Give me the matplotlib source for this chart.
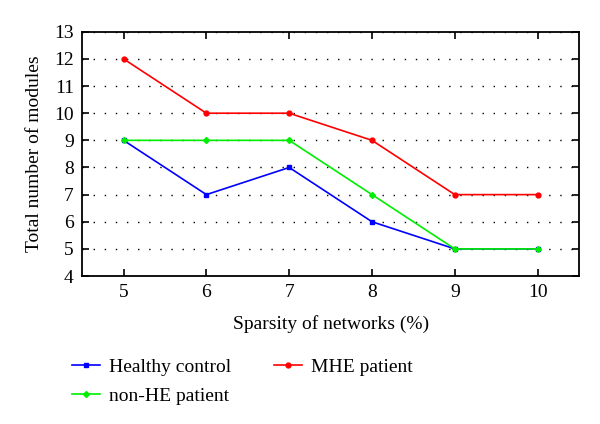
import matplotlib
matplotlib.use("Agg")
import matplotlib.pyplot as plt

sparsity = [5, 6, 7, 8, 9, 10]
healthy = [9, 7, 8, 6, 5, 5]
mhe = [12, 10, 10, 9, 7, 7]
nonhe = [9, 9, 9, 7, 5, 5]
yticks = list(range(4, 14))

plt.rcParams['font.family'] = ['Liberation Serif', 'DejaVu Serif']

fig = plt.figure(figsize=(6, 4.24), dpi=100)
ax = fig.add_axes([0.137, 0.349, 0.828, 0.576])

l1, = ax.plot(sparsity, healthy, color='#0000ff', marker='s', markersize=3, lw=1.2, label='Healthy control')
l2, = ax.plot(sparsity, nonhe, color='#00ee00', marker='D', markersize=3, lw=1.2, label='non-HE patient')
l3, = ax.plot(sparsity, mhe, color='#ff0000', marker='o', markersize=3.5, lw=1.2, label='MHE patient')

ax.set_xlim(4.5, 10.5)
ax.set_ylim(4, 13)
ax.set_xticks(sparsity)
ax.set_yticks(yticks)
ax.yaxis.grid(True, color='black', linestyle=(0, (1, 7)), lw=1.0)
ax.set_axisbelow(True)
ax.tick_params(direction='in', top=True, right=True, labelsize=14, length=5, width=1.2, pad=6)
for s in ax.spines.values():
    s.set_linewidth(1.3)
ax.set_xlabel('Sparsity of networks (%)', fontsize=14, labelpad=10)
ax.set_ylabel('Total number of modules', fontsize=14, labelpad=8)

fig.legend(handles=[l1, l2, l3], ncol=2, loc='upper left', bbox_to_anchor=(0.12, 0.155),
           frameon=False, fontsize=14, handlelength=1.45, columnspacing=2.2, labelspacing=0.6,
           handletextpad=0.45, borderpad=0, borderaxespad=0)

fig.savefig('out.png', dpi=100)
